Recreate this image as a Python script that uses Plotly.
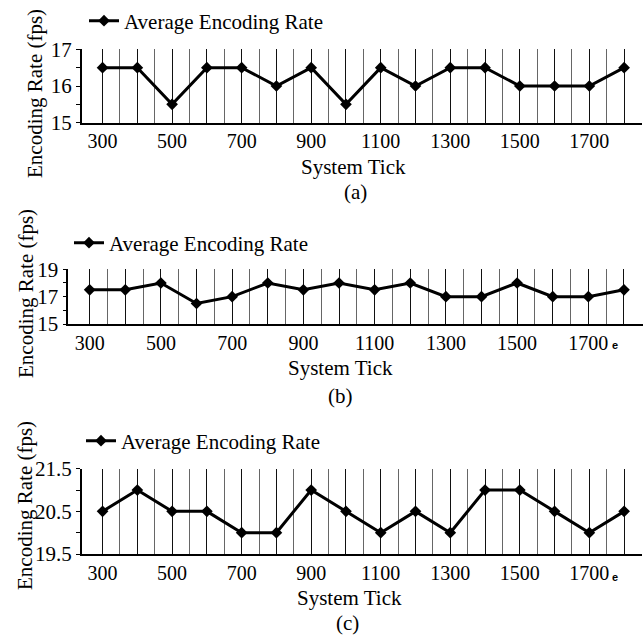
import plotly.graph_objects as go

system_tick = [300, 400, 500, 600, 700, 800, 900, 1000, 1100, 1200, 1300, 1400, 1500, 1600, 1700, 1800]
rate_a = [16.5, 16.5, 15.5, 16.5, 16.5, 16.0, 16.5, 15.5, 16.5, 16.0, 16.5, 16.5, 16.0, 16.0, 16.0, 16.5]
rate_b = [17.5, 17.5, 18.0, 16.5, 17.0, 18.0, 17.5, 18.0, 17.5, 18.0, 17.0, 17.0, 18.0, 17.0, 17.0, 17.5]
rate_c = [20.5, 21.0, 20.5, 20.5, 20.0, 20.0, 21.0, 20.5, 20.0, 20.5, 20.0, 21.0, 21.0, 20.5, 20.0, 20.5]

x_tick_labels = [300, 500, 700, 900, 1100, 1300, 1500, 1700]
half_steps = [t + 50 for t in system_tick]
series_name = "Average Encoding Rate"
y_title = "Encoding Rate (fps)"
x_title = "System Tick"
captions = ["(a)", "(b)", "(c)"]

W, H = 644, 636
FONT = "Liberation Serif"

def px_x(p):
    return p / W

def px_y(p):
    return 1 - p / H

panels = [
    dict(data=rate_a, yrange=[15, 17], dtick=1, minor=0.5, tick0=15,
         top=49.3, bottom=122.7, left=81.7, right=642.2,
         legend_x=84, legend_y=21, ytitle_x=35, ytitle_y=94,
         xtitle_x=353, xtitle_y=167, cap_x=355, cap_y=192),
    dict(data=rate_b, yrange=[15, 19], dtick=2, minor=1, tick0=15,
         top=269.3, bottom=324, left=68.3, right=642.5,
         legend_x=69, legend_y=243, ytitle_x=26, ytitle_y=294,
         xtitle_x=340, xtitle_y=368, cap_x=340, cap_y=396),
    dict(data=rate_c, yrange=[19.5, 21.5], dtick=1, minor=0.5, tick0=19.5,
         top=468.7, bottom=554, left=81.7, right=642.2,
         legend_x=81, legend_y=441, ytitle_x=25, ytitle_y=506,
         xtitle_x=349, xtitle_y=598, cap_x=347, cap_y=623),
]

fig = go.Figure()
layout = dict(
    width=W, height=H,
    margin=dict(l=0, r=0, t=0, b=0, autoexpand=False),
    paper_bgcolor="white", plot_bgcolor="white",
    font=dict(family=FONT, size=20, color="black"),
    annotations=[],
)

for i, p in enumerate(panels):
    n = "" if i == 0 else str(i + 1)
    leg = "legend" if i == 0 else "legend" + str(i + 1)
    fig.add_trace(go.Scatter(
        x=system_tick, y=p["data"], mode="lines+markers", name=series_name,
        line=dict(color="black", width=3),
        marker=dict(symbol="diamond", size=9, color="black"),
        xaxis="x" + n, yaxis="y" + n, legend=leg, showlegend=True,
    ))
    layout["xaxis" + n] = dict(
        domain=[px_x(p["left"]), px_x(p["right"])],
        anchor="y" + n, range=[240, 1852],
        tickmode="array", tickvals=system_tick,
        ticktext=[str(v) if v in x_tick_labels else "" for v in system_tick],
        ticks="", tickangle=0, automargin=False,
        showgrid=True, gridcolor="#111", gridwidth=1.2,
        minor=dict(tickmode="array", tickvals=half_steps, showgrid=True,
                   gridcolor="#666", gridwidth=1.2, ticks=""),
        showline=True, linecolor="black", linewidth=1.5,
        zeroline=False, tickfont=dict(size=20),
        fixedrange=True,
    )
    layout["yaxis" + n] = dict(
        domain=[px_y(p["bottom"]), px_y(p["top"])],
        anchor="x" + n, range=p["yrange"],
        tickmode="linear", tick0=p["tick0"], dtick=p["dtick"],
        ticks="outside", ticklen=4, tickcolor="black", tickwidth=1,
        minor=dict(tickmode="linear", tick0=p["tick0"], dtick=p["minor"],
                   ticks="outside", ticklen=4, tickcolor="black", showgrid=False),
        showgrid=False, showline=True, linecolor="black", linewidth=1.5,
        zeroline=False, tickfont=dict(size=21), automargin=False,
        fixedrange=True,
    )
    layout[leg] = dict(
        x=px_x(p["legend_x"]), y=px_y(p["legend_y"]), xanchor="left", yanchor="middle",
        bgcolor="rgba(0,0,0,0)", font=dict(size=21), itemwidth=30,
        borderwidth=0,
    )
    layout["annotations"] += [
        dict(text=y_title, x=px_x(p["ytitle_x"]), y=px_y(p["ytitle_y"]), xref="paper", yref="paper",
             textangle=-90, showarrow=False, font=dict(size=21), xanchor="center", yanchor="middle"),
        dict(text=x_title, x=px_x(p["xtitle_x"]), y=px_y(p["xtitle_y"]), xref="paper", yref="paper",
             showarrow=False, font=dict(size=21), xanchor="center", yanchor="middle"),
        dict(text=captions[i], x=px_x(p["cap_x"]), y=px_y(p["cap_y"]), xref="paper", yref="paper",
             showarrow=False, font=dict(size=21), xanchor="center", yanchor="middle"),
    ]

# small stray "e" marks next to the 1700 labels in panels (b) and (c)
layout["annotations"] += [
    dict(text="<b>e</b>", x=px_x(615), y=px_y(345), xref="paper", yref="paper", showarrow=False,
         font=dict(size=11, family="Liberation Sans"), xanchor="center", yanchor="middle"),
    dict(text="<b>e</b>", x=px_x(615), y=px_y(577), xref="paper", yref="paper", showarrow=False,
         font=dict(size=11, family="Liberation Sans"), xanchor="center", yanchor="middle"),
]

fig.update_layout(**layout)
fig.write_html("out.html")
